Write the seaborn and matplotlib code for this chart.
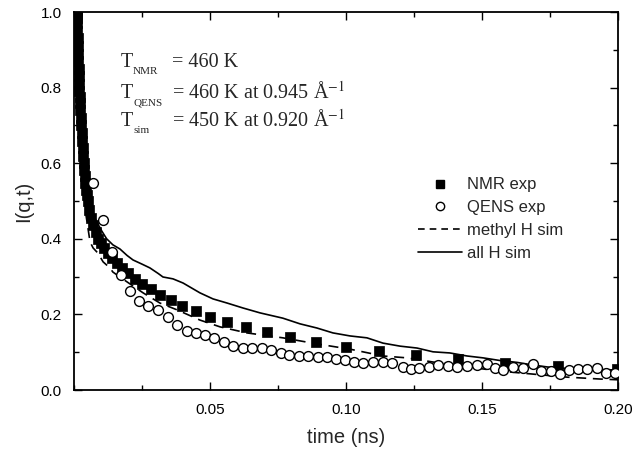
import matplotlib
matplotlib.use("Agg")
import matplotlib.pyplot as plt
import seaborn as sns
from matplotlib.lines import Line2D
from matplotlib.ticker import MultipleLocator, FixedLocator, FixedFormatter

# ---------------- data ----------------
nmr_t = [0.0010, 0.00105, 0.0011, 0.00118, 0.00126, 0.00133, 0.00141, 0.0015, 0.00158, 0.00168,
         0.00178, 0.00188, 0.0020, 0.00211, 0.00224, 0.00237, 0.00251, 0.00266, 0.00282, 0.00299,
         0.00316, 0.00335, 0.00355, 0.00376, 0.00398, 0.00422, 0.00447, 0.00473, 0.00501, 0.00562,
         0.00631, 0.00708, 0.00794, 0.00891, 0.0100,
         0.0112, 0.0126, 0.0141, 0.0158, 0.0178, 0.0200, 0.0224, 0.0251, 0.0282, 0.0316,
         0.0355, 0.0398, 0.0447, 0.0501, 0.0562, 0.0631, 0.0708, 0.0794, 0.0891, 0.1000,
         0.1122, 0.1259, 0.1413, 0.1585, 0.1778, 0.1995]
nmr_I = [1.00, 0.995, 0.985, 0.97, 0.95, 0.93, 0.91, 0.89, 0.87, 0.85,
         0.83, 0.81, 0.79, 0.775, 0.76, 0.74, 0.72, 0.70, 0.68, 0.66,
         0.64, 0.62, 0.60, 0.582, 0.565, 0.547, 0.53, 0.515, 0.50, 0.475,
         0.455, 0.436, 0.418, 0.40, 0.389,
         0.376, 0.362, 0.349, 0.336, 0.323, 0.310, 0.294, 0.280, 0.267, 0.251,
         0.238, 0.222, 0.209, 0.193, 0.180, 0.167, 0.153, 0.140, 0.127, 0.114,
         0.103, 0.093, 0.082, 0.071, 0.064, 0.056]

qens_t = [0.0070, 0.0107, 0.0140, 0.0173, 0.0206, 0.0239, 0.0272, 0.0309, 0.0346, 0.0379,
          0.0415, 0.0449, 0.0482, 0.0515, 0.0551, 0.0585, 0.0621, 0.0654, 0.0691, 0.0724,
          0.0761, 0.0790, 0.0827, 0.0860, 0.0897, 0.0930, 0.0963, 0.0996, 0.1029, 0.1063,
          0.1099, 0.1136, 0.1169, 0.1210, 0.1239, 0.1268, 0.1305, 0.1338, 0.1375, 0.1408,
          0.1445, 0.1482, 0.1518, 0.1548, 0.1577, 0.1614, 0.1651, 0.1688, 0.1717, 0.1754,
          0.1787, 0.1820, 0.1853, 0.1886, 0.1923, 0.1956, 0.1989]
qens_I = [0.548, 0.450, 0.365, 0.304, 0.262, 0.235, 0.222, 0.212, 0.193, 0.172,
          0.156, 0.151, 0.146, 0.138, 0.127, 0.116, 0.111, 0.111, 0.111, 0.106,
          0.098, 0.093, 0.090, 0.090, 0.087, 0.087, 0.082, 0.079, 0.074, 0.071,
          0.074, 0.074, 0.071, 0.061, 0.056, 0.058, 0.061, 0.066, 0.063, 0.061,
          0.063, 0.066, 0.069, 0.058, 0.053, 0.061, 0.058, 0.069, 0.050, 0.050,
          0.042, 0.053, 0.056, 0.056, 0.058, 0.045, 0.045]

allh_t = [0.0, 0.0012, 0.0022, 0.0030, 0.0040, 0.0051, 0.0065, 0.0080, 0.0100, 0.0120,
          0.0143, 0.0169, 0.0195, 0.0217, 0.0250, 0.0279, 0.0310, 0.0327, 0.0364, 0.0401,
          0.0463, 0.0511, 0.0563, 0.0621, 0.0684, 0.0768, 0.0831, 0.0893, 0.0952, 0.1015,
          0.1077, 0.1136, 0.1199, 0.1261, 0.1320, 0.1382, 0.1445, 0.1504, 0.1566, 0.1629,
          0.1688, 0.1750, 0.1813, 0.1871, 0.1934, 0.2000]
allh_I = [1.0, 0.95, 0.80, 0.68, 0.58, 0.52, 0.478, 0.45, 0.423, 0.40,
          0.384, 0.373, 0.356, 0.344, 0.333, 0.323, 0.308, 0.299, 0.294, 0.283,
          0.257, 0.241, 0.230, 0.217, 0.204, 0.190, 0.175, 0.164, 0.151, 0.143,
          0.138, 0.124, 0.116, 0.111, 0.101, 0.098, 0.090, 0.085, 0.078, 0.073,
          0.066, 0.060, 0.057, 0.055, 0.054, 0.053]

methyl_t = [0.0, 0.0008, 0.0015, 0.0029, 0.0044, 0.0059, 0.0070, 0.0088, 0.0107, 0.0132,
            0.0143, 0.0169, 0.0195, 0.0254, 0.0316, 0.0379, 0.0463, 0.0537, 0.0636, 0.0768,
            0.0893, 0.1015, 0.1136, 0.1224, 0.1320, 0.1445, 0.1566, 0.1688, 0.1813, 0.1934,
            0.2000]
methyl_I = [1.0, 0.90, 0.77, 0.58, 0.463, 0.392, 0.376, 0.362, 0.339, 0.323,
            0.312, 0.299, 0.286, 0.257, 0.230, 0.212, 0.185, 0.167, 0.151, 0.138,
            0.122, 0.108, 0.090, 0.085, 0.074, 0.061, 0.050, 0.042, 0.034, 0.029,
            0.027]

x_ticks = [0.05, 0.10, 0.15, 0.20]
x_ticklabels = ["0.05", "0.10", "0.15", "0.20"]
y_ticks = [0.0, 0.2, 0.4, 0.6, 0.8, 1.0]
y_ticklabels = ["0.0", "0.2", "0.4", "0.6", "0.8", "1.0"]
legend_labels = ["NMR exp", "QENS exp", "methyl H sim", "all H sim"]

# ---------------- style ----------------
sns.set_style("ticks")
plt.rcParams["font.family"] = ["Liberation Sans", "DejaVu Sans"]
plt.rcParams["mathtext.fontset"] = "stix"

fig = plt.figure(figsize=(6.34, 4.5), dpi=100)
ax = fig.add_axes([74 / 634, 60 / 450, 544 / 634, 378 / 450])

sns.lineplot(x=allh_t, y=allh_I, ax=ax, color="black", linewidth=1.2,
             estimator=None, sort=False, zorder=2)
sns.lineplot(x=methyl_t, y=methyl_I, ax=ax, color="black", linewidth=1.2,
             estimator=None, sort=False, dashes=False, zorder=2)
ax.lines[-1].set_dashes([6, 4])
sns.scatterplot(x=nmr_t, y=nmr_I, ax=ax, marker="s", s=42, color="black",
                edgecolor="black", linewidth=0.5, zorder=3)
sns.scatterplot(x=qens_t, y=qens_I, ax=ax, marker="o", s=50, facecolor="white",
                edgecolor="black", linewidth=1.0, zorder=4)

ax.set_xlim(0, 0.2)
ax.set_ylim(0, 1.0)
ax.xaxis.set_major_locator(FixedLocator(x_ticks))
ax.xaxis.set_major_formatter(FixedFormatter(x_ticklabels))
ax.xaxis.set_minor_locator(MultipleLocator(0.025))
ax.yaxis.set_major_locator(FixedLocator(y_ticks))
ax.yaxis.set_major_formatter(FixedFormatter(y_ticklabels))
ax.yaxis.set_minor_locator(MultipleLocator(0.1))
ax.tick_params(which="both", direction="in", top=True, right=True,
               labelsize=11, colors="black", width=1.0)
ax.tick_params(which="major", length=6, pad=9)
ax.tick_params(which="minor", length=3.5)
for sp in ax.spines.values():
    sp.set_visible(True)
    sp.set_linewidth(1.3)
    sp.set_color("black")

ax.set_xlabel("time (ns)", fontsize=14.5, labelpad=8)
ax.set_ylabel("I(q,t)", fontsize=14.5, labelpad=5)

# annotation block (Times-like serif)
serif = ["Liberation Serif", "DejaVu Serif"]
rows = [("NMR", "= 460 K", 0.854),
        ("QENS", r"= 460 K at 0.945 Å$^{-1}$", 0.772),
        ("sim", r"= 450 K at 0.920 Å$^{-1}$", 0.698)]
for sub, rhs, yb in rows:
    ax.text(0.0864, yb, "T", transform=ax.transAxes, fontsize=14.5, family=serif,
            va="baseline", ha="left")
    ax.text(0.1085, yb - 0.019, sub, transform=ax.transAxes, fontsize=8, family=serif,
            va="baseline", ha="left")
    ax.text(0.180, yb, rhs, transform=ax.transAxes, fontsize=14.5, family=serif,
            va="baseline", ha="left")

handles = [
    Line2D([], [], marker="s", color="black", linestyle="none", markersize=6),
    Line2D([], [], marker="o", markerfacecolor="white", markeredgecolor="black",
           linestyle="none", markersize=6, markeredgewidth=1.0),
    Line2D([], [], color="black", linewidth=1.2, dashes=[4, 3]),
    Line2D([], [], color="black", linewidth=1.2),
]
ax.legend(handles, legend_labels, loc="upper left", bbox_to_anchor=(0.621, 0.58),
          frameon=False, fontsize=12, handlelength=2.6, handletextpad=0.3,
          labelspacing=0.47, borderaxespad=0)

fig.savefig("out.png", dpi=100)
